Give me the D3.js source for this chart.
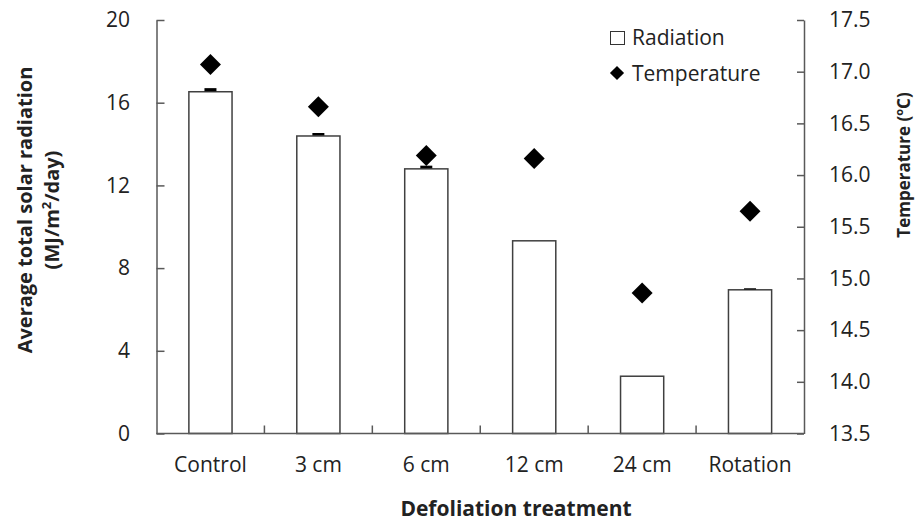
<!DOCTYPE html>
<html>
<head>
<meta charset="utf-8">
<script src="https://cdn.jsdelivr.net/npm/d3@7"></script>
<style>
  body { margin: 0; background: #fff; }
  text { font-family: "Open Sans", "Noto Sans", sans-serif; fill: #222; }
</style>
</head>
<body>
<div class="chart"></div>
<script>
//data
const treatments = ["Control", "3 cm", "6 cm", "12 cm", "24 cm", "Rotation"];
const radiation = [16.53, 14.39, 12.8, 9.32, 2.77, 6.95];
const radiationErr = [0.15, 0.12, 0.13, 0, 0, 0.05];
const temperature = [17.07, 16.66, 16.19, 16.16, 14.86, 15.65];
const radTicks = [0, 4, 8, 12, 16, 20];
const tempTicks = [13.5, 14.0, 14.5, 15.0, 15.5, 16.0, 16.5, 17.0, 17.5];

//canvas + plot box
const width = 916, height = 525;
const plotL = 156.5, plotR = 804, plotT = 20, plotB = 433.5;
const axisCol = "#595959";

const svg = d3.select(".chart").append("svg")
    .attr("width", width)
    .attr("height", height);

//scales
const x = d3.scaleBand().domain(treatments).range([plotL, plotR]).paddingInner(0.6).paddingOuter(0.3);
const yRad = d3.scaleLinear().domain([0, 20]).range([plotB, plotT]);
const yTemp = d3.scaleLinear().domain([13.5, 17.5]).range([plotB, plotT]);

//bars
svg.append("g").selectAll("rect")
    .data(radiation)
    .enter().append("rect")
    .attr("x", (d, i) => x(treatments[i]))
    .attr("y", d => yRad(d))
    .attr("width", x.bandwidth())
    .attr("height", d => yRad(0) - yRad(d))
    .attr("fill", "#fff")
    .attr("stroke", "#404040")
    .attr("stroke-width", 1.5);

//error bars (tiny, show as a black cap)
svg.append("g").selectAll("rect")
    .data(radiation.map((v, i) => ({v: v, e: radiationErr[i], c: treatments[i]})).filter(d => d.e > 0))
    .enter().append("rect")
    .attr("x", d => x(d.c) + x.bandwidth() / 2 - 6)
    .attr("y", d => yRad(d.v + d.e) - 0.5)
    .attr("width", 12)
    .attr("height", d => Math.max(1.2, yRad(d.v) - yRad(d.v + d.e)))
    .attr("fill", "#000");

//axes
const leftAxis = d3.axisLeft(yRad).tickValues(radTicks).tickSizeInner(-8).tickSizeOuter(0).tickPadding(26.5);
const rightAxis = d3.axisRight(yTemp).tickValues(tempTicks).tickSizeInner(-7).tickSizeOuter(0).tickPadding(25)
    .tickFormat(d3.format(".1f"));

function styleAxis(g) {
  g.select(".domain").attr("stroke", axisCol).attr("stroke-width", 1.5);
  g.selectAll(".tick line").attr("stroke", axisCol).attr("stroke-width", 1.5);
  g.selectAll(".tick text").style("font-size", "21px").attr("fill", "#222")
    .style("font-family", "'Open Sans', sans-serif");
}

svg.append("g").attr("transform", "translate(" + plotL + ",0)").call(leftAxis).call(styleAxis);
svg.append("g").attr("transform", "translate(" + plotR + ",0)").call(rightAxis).call(styleAxis);

//x axis: labels under bars, ticks at category edges
const bottomAxis = d3.axisBottom(x).tickSize(0).tickPadding(24);
svg.append("g").attr("transform", "translate(0," + plotB + ")").call(bottomAxis).call(styleAxis)
    .select(".domain").attr("d", "M" + plotL + ",0H" + plotR);

svg.append("g").selectAll("line")
    .data(treatments.slice(1))
    .enter().append("line")
    .attr("x1", d => x(d) - x.step() * x.paddingInner() / 2)
    .attr("x2", d => x(d) - x.step() * x.paddingInner() / 2)
    .attr("y1", plotB)
    .attr("y2", plotB - 8)
    .attr("stroke", axisCol)
    .attr("stroke-width", 1.5);

//temperature diamonds
const diamond = d3.symbol().type(d3.symbolSquare).size(220);
svg.append("g").selectAll("path")
    .data(temperature)
    .enter().append("path")
    .attr("d", diamond)
    .attr("transform", (d, i) => "translate(" + (x(treatments[i]) + x.bandwidth() / 2) + "," + yTemp(d) + ") rotate(45)")
    .attr("fill", "#000");

//axis titles
svg.append("text")
    .attr("x", 516).attr("y", 516)
    .attr("text-anchor", "middle")
    .style("font-size", "21px").style("font-weight", "bold")
    .text("Defoliation treatment");

const yTitle = svg.append("text")
    .attr("transform", "translate(0,210) rotate(-90)")
    .attr("text-anchor", "middle")
    .style("font-size", "20px").style("font-weight", "bold");
yTitle.append("tspan").attr("x", 0).attr("y", 32).text("Average total solar radiation");
const line2 = yTitle.append("tspan").attr("x", 0).attr("y", 59);
line2.append("tspan").text("(MJ/m");
line2.append("tspan").attr("dy", -8).style("font-size", "13px").text("2");
line2.append("tspan").attr("dy", 8).text("/day)");

const tTitle = svg.append("text")
    .attr("transform", "translate(0,165) rotate(-90)")
    .attr("text-anchor", "middle")
    .style("font-size", "17px").style("font-weight", "bold");
tTitle.append("tspan").attr("x", 0).attr("y", 910).text("Temperature (");
tTitle.append("tspan").attr("dy", -7).style("font-size", "11px").text("o");
tTitle.append("tspan").attr("dy", 7).text("C)");

//legend
const legend = svg.append("g").attr("id", "legend");
legend.append("rect")
    .attr("x", 610.5).attr("y", 31.5).attr("width", 14).attr("height", 13)
    .attr("fill", "#fff").attr("stroke", "#333").attr("stroke-width", 1);
legend.append("text").attr("x", 632).attr("y", 44.5).style("font-size", "21px").text("Radiation");
legend.append("path")
    .attr("d", d3.symbol().type(d3.symbolSquare).size(100))
    .attr("transform", "translate(617,73) rotate(45)")
    .attr("fill", "#000");
legend.append("text").attr("x", 632).attr("y", 80.5).style("font-size", "21px").text("Temperature");
</script>
</body>
</html>
